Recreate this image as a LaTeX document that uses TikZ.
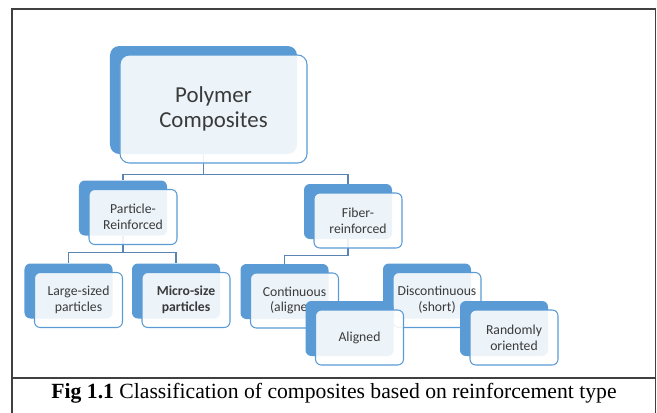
\documentclass[tikz,border=0pt]{standalone}
\usepackage{fontspec}
\usepackage{tikz}
\usetikzlibrary{backgrounds}
\setmainfont{Carlito}
\newfontfamily\capfont{Liberation Serif}

\definecolor{smartblue}{HTML}{5B9BD5}
\definecolor{linkblue}{HTML}{5A84B4}
\definecolor{boxtext}{HTML}{3A3A3A}

\tikzset{
  backbox/.style={fill=smartblue, rounded corners=5pt, minimum width=2.64cm, minimum height=1.65cm, inner sep=0pt},
  frontbox/.style={draw=smartblue, line width=0.9pt, fill=white, fill opacity=0.89, text opacity=1,
    rounded corners=5pt, minimum width=2.64cm, minimum height=1.65cm, inner sep=0pt, align=center,
    text=boxtext, font=\fontsize{11.7}{13.5}\selectfont},
  bigback/.style={backbox, rounded corners=8pt, minimum width=5.61cm, minimum height=3.24cm},
  bigfront/.style={frontbox, rounded corners=8pt, minimum width=5.61cm, minimum height=3.24cm,
    font=\fontsize{19.5}{21}\selectfont},
  link/.style={draw=linkblue, line width=0.9pt},
}

\begin{document}
\begin{tikzpicture}[x=0.03cm, y=-0.03cm]
    \useasboundingbox (0,0) rectangle (657,412);

    % frame and caption
    \draw [line width=1.4pt, black!75] (12,414)--(12,9)--(655.5,9)--(655.5,414);
    \draw [line width=1.4pt, black!75] (12,378)--(655.5,378);
    \node (cap) at (334,393) {\capfont\fontsize{18.5}{20}\selectfont\textbf{Fig 1.1} Classification of composites based on reinforcement type};

    \node [bigback] (polyb) at (203.5,100) {};
    \node [bigfront] (poly) at (213.5,109) {Polymer\\Composites};

    \node [backbox] (partb) at (123,208) {};
    \node [frontbox] (part) at (133,217) {Particle-\\Reinforced};
    \node [backbox] (fiberb) at (348,211.5) {};
    \node [frontbox] (fiber) at (358,220.5) {Fiber-\\reinforced};

    \node [backbox] (largeb) at (68.5,291) {};
    \node [frontbox] (large) at (78.5,300) {Large-sized\\particles};
    \node [backbox] (microb) at (176,291) {};
    \node [frontbox] (micro) at (186,300) {\textbf{Micro-size}\\\textbf{particles}};

    \node [backbox] (contb) at (284.5,291.5) {};
    \node [frontbox] (cont) at (294.5,300.5) {Continuous\\(aligned)};
    \node [backbox] (discb) at (427,291) {};
    \node [frontbox] (disc) at (437,300) {Discontinuous\\(short)};
    \node [backbox] (alignb) at (349.5,328.5) {};
    \node [frontbox] (align) at (359.5,337.5) {Aligned};
    \node [backbox] (randb) at (504,328.5) {};
    \node [frontbox] (rand) at (514,337.5) {Randomly\\oriented};

    \begin{pgfonlayer}{background}
    \draw [link] (polyb.south) -- ++(0,20) -| (partb.north);
    \draw [link] (polyb.south) -- ++(0,20) -| (fiberb.north);
    \draw [link] (partb.south) -- ++(0,17) -| (largeb.north);
    \draw [link] (partb.south) -- ++(0,17) -| (microb.north);
    \draw [link] (fiberb.south) -- ++(0,16) -| (contb.north);
    \end{pgfonlayer}
\end{tikzpicture}
\end{document}
